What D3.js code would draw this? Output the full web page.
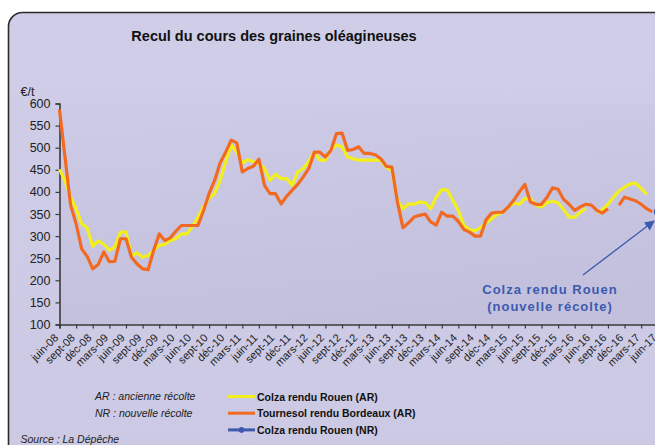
<!DOCTYPE html>
<html>
<head>
<meta charset="utf-8">
<script src="https://cdn.jsdelivr.net/npm/d3@7"></script>
<style>
  html, body { margin: 0; padding: 0; background: #ffffff; }
  svg { display: block; font-family: "Liberation Sans", Arial, sans-serif; }
</style>
</head>
<body>
<svg id="chart" width="655" height="445"></svg>
<script>
// ---- Data (monthly, juin-08 .. juin-17) ----
const quarterLabels = ["juin-08","sept-08","déc-08","mars-09","juin-09","sept-09","déc-09","mars-10","juin-10","sept-10","déc-10","mars-11","juin-11","sept-11","déc-11","mars-12","juin-12","sept-12","déc-12","mars-13","juin-13","sept-13","déc-13","mars-14","juin-14","sept-14","déc-14","mars-15","juin-15","sept-15","déc-15","mars-16","juin-16","sept-16","déc-16","mars-17","juin-17"];

const colzaAR = [451,425,388,362,328,319,277,289,281,268,275,309,309,255,262,252,256,268,279,281,
  290,294,305,305,322,343,366,386,396,426,468,506,490,465,473,468,464,453,426,440,
  430,430,415,445,453,468,490,472,472,496,506,502,479,475,472,472,472,472,472,456,
  449,381,362,373,372,377,376,362,388,405,404,381,358,324,315,312,319,330,339,349,
  354,366,375,372,385,385,370,366,376,379,375,360,343,343,354,362,null,352,360,372,
  388,402,411,418,420,408,394,null,null];

const tournesolAR = [586,478,370,328,271,254,226,236,264,242,243,294,294,252,237,226,224,268,305,290,
  296,311,324,324,324,324,358,396,426,466,490,517,511,445,453,458,474,415,396,396,
  373,390,404,417,434,453,490,490,479,494,532,533,494,496,502,487,487,484,475,458,
  456,377,319,330,343,347,350,332,325,354,345,345,333,315,309,300,300,337,352,354,
  354,366,381,400,417,377,372,372,388,409,406,383,372,358,366,372,370,358,352,362,
  null,370,388,384,380,372,362,355,null];

const colzaNR = new Array(108).fill(null).concat([355]);

const yTicks = [100,150,200,250,300,350,400,450,500,550,600];

const legendItems = [
  {label: "Colza rendu Rouen (AR)", color: "#F3EF1C", marker: false},
  {label: "Tournesol rendu Bordeaux (AR)", color: "#F26A22", marker: false},
  {label: "Colza rendu Rouen (NR)", color: "#3D5AAE", marker: true}
];

// ---- Drawing ----
const svg = d3.select("#chart");
const defs = svg.append("defs");

const gFrame = defs.append("linearGradient").attr("id","frameGrad").attr("x1",0).attr("y1",0).attr("x2",0).attr("y2",1);
gFrame.append("stop").attr("offset","0%").attr("stop-color","#CFCDE8");
gFrame.append("stop").attr("offset","100%").attr("stop-color","#CBC9E4");

const gPlot = defs.append("linearGradient").attr("id","plotGrad").attr("x1",0).attr("y1",0).attr("x2",0.3).attr("y2",1);
gPlot.append("stop").attr("offset","0%").attr("stop-color","#CDCBE6");
gPlot.append("stop").attr("offset","100%").attr("stop-color","#C2C0DC");

// outer rounded frame
svg.append("rect")
  .attr("x", 8.5).attr("y", 12.5)
  .attr("width", 700).attr("height", 450)
  .attr("rx", 14).attr("ry", 14)
  .attr("fill", "url(#frameGrad)")
  .attr("stroke", "#2b2b2b").attr("stroke-width", 1.6);

const x = d3.scaleLinear().domain([0, 108]).range([59.5, 657.8]);
const y = d3.scaleLinear().domain([100, 600]).range([324.5, 103.5]);

// plot area
svg.append("rect")
  .attr("x", x(0)).attr("y", y(600))
  .attr("width", 700).attr("height", y(100) - y(600))
  .attr("fill", "url(#plotGrad)");

// title
svg.append("text")
  .attr("x", 274).attr("y", 40.5)
  .attr("text-anchor", "middle")
  .attr("font-weight", "bold").attr("font-size", 14.5)
  .attr("fill", "#111")
  .text("Recul du cours des graines oléagineuses");

// unit
svg.append("text")
  .attr("x", 20.5).attr("y", 95.5)
  .attr("font-size", 12.5).attr("fill", "#222")
  .text("€/t");

// y axis
const yAxis = d3.axisLeft(y).tickValues(yTicks).tickSize(4).tickPadding(5).tickFormat(d3.format("d"));
const gy = svg.append("g").attr("transform", `translate(${x(0)},0)`).call(yAxis);
gy.select(".domain").attr("stroke", "#3a3a3a").attr("stroke-width", 1.6);
gy.selectAll(".tick line").attr("stroke", "#3a3a3a").attr("stroke-width", 1.2);
gy.selectAll(".tick text").attr("font-size", 12.5).attr("fill", "#222")
  .attr("font-family", "Liberation Sans, Arial, sans-serif");

// x axis (quarterly ticks)
const tickMonths = quarterLabels.map((d, i) => i * 3);
const xAxis = d3.axisBottom(x).tickValues(tickMonths).tickSize(4).tickFormat("");
const gx = svg.append("g").attr("transform", `translate(0,${y(100)})`).call(xAxis);
gx.select(".domain").attr("stroke", "#3a3a3a").attr("stroke-width", 1.6);
gx.selectAll(".tick line").attr("stroke", "#3a3a3a").attr("stroke-width", 1.2);

svg.append("g").selectAll("text")
  .data(quarterLabels)
  .join("text")
  .attr("transform", (d, i) => `translate(${x(i * 3) - 0.5},${y(100) + 14}) rotate(-45)`)
  .attr("text-anchor", "end")
  .attr("font-size", 11).attr("fill", "#222")
  .text(d => d);

// lines
const lineGen = d3.line()
  .defined(d => d !== null)
  .x((d, i) => x(i))
  .y(d => y(d));

svg.append("path")
  .datum(colzaAR)
  .attr("d", lineGen)
  .attr("fill", "none")
  .attr("stroke", legendItems[0].color)
  .attr("stroke-width", 3.2)
  .attr("stroke-linejoin", "round");

svg.append("path")
  .datum(tournesolAR)
  .attr("d", lineGen)
  .attr("fill", "none")
  .attr("stroke", legendItems[1].color)
  .attr("stroke-width", 3.2)
  .attr("stroke-linejoin", "round");

svg.append("g").selectAll("circle")
  .data(colzaNR.map((v, i) => ({v, i})).filter(d => d.v !== null))
  .join("circle")
  .attr("cx", d => x(d.i)).attr("cy", d => y(d.v))
  .attr("r", 4)
  .attr("fill", legendItems[2].color);

// annotation
const annoColor = "#3D5AAE";
svg.append("text")
  .attr("x", 550).attr("y", 293.5)
  .attr("text-anchor", "middle")
  .attr("font-weight", "bold").attr("font-size", 13).attr("letter-spacing", 1)
  .attr("fill", annoColor)
  .text("Colza rendu Rouen");
svg.append("text")
  .attr("x", 550).attr("y", 310.5)
  .attr("text-anchor", "middle")
  .attr("font-weight", "bold").attr("font-size", 13).attr("letter-spacing", 1)
  .attr("fill", annoColor)
  .text("(nouvelle récolte)");

defs.append("marker")
  .attr("id", "arrowHead")
  .attr("viewBox", "0 0 10 10")
  .attr("refX", 9).attr("refY", 5)
  .attr("markerWidth", 10).attr("markerHeight", 10)
  .attr("markerUnits", "userSpaceOnUse")
  .attr("orient", "auto")
  .append("path").attr("d", "M0,0 L10,5 L0,10 Z").attr("fill", annoColor);

svg.append("line")
  .attr("x1", 583).attr("y1", 275)
  .attr("x2", 654).attr("y2", 221)
  .attr("stroke", annoColor).attr("stroke-width", 1.3)
  .attr("marker-end", "url(#arrowHead)");

// notes
svg.append("text").attr("x", 95).attr("y", 400)
  .attr("font-style", "italic").attr("font-size", 10.5).attr("fill", "#222")
  .text("AR : ancienne récolte");
svg.append("text").attr("x", 95).attr("y", 416.5)
  .attr("font-style", "italic").attr("font-size", 10.5).attr("fill", "#222")
  .text("NR : nouvelle récolte");
svg.append("text").attr("x", 20.5).attr("y", 442.5)
  .attr("font-style", "italic").attr("font-size", 10.5).attr("fill", "#222")
  .text("Source : La Dépêche");

// legend
const lg = svg.append("g").selectAll("g")
  .data(legendItems)
  .join("g")
  .attr("transform", (d, i) => `translate(228,${396.5 + i * 16.7})`);
lg.append("line")
  .attr("x1", 0).attr("x2", 27).attr("y1", 0).attr("y2", 0)
  .attr("stroke", d => d.color).attr("stroke-width", 3);
lg.filter(d => d.marker).append("circle")
  .attr("cx", 13.5).attr("cy", 0).attr("r", 2.8)
  .attr("fill", d => d.color);
lg.append("text")
  .attr("x", 29).attr("y", 4)
  .attr("font-weight", "bold").attr("font-size", 10.5).attr("fill", "#111")
  .text(d => d.label);
</script>
</body>
</html>
